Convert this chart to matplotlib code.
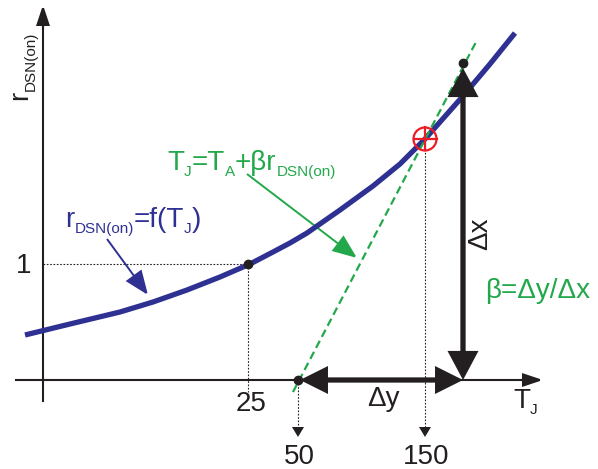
import matplotlib
matplotlib.use("Agg")
import matplotlib.pyplot as plt
from matplotlib.patches import FancyArrowPatch, Circle

# diagram coordinates (pixel-like, y grows downwards)
curve_x = [25, 70, 120, 153, 187, 220, 250, 273, 290, 307, 340, 373, 400, 425, 463, 490, 515]
curve_y = [335, 324, 312, 302, 290, 277, 264, 252, 243, 233, 210, 186, 164, 139, 96, 64, 33]

tangent_x = [293, 476]
tangent_y = [392, 42]

x_axis_y = 380
y_axis_x = 43
ref_point = (248, 264)      # (25, 1)
t50_point = (298, 380)
op_point = (425, 139)
top_point = (463, 63)

tick_labels = ["25", "50", "150"]

BLUE = "#2e3192"
GREEN = "#22a84a"
RED = "#ed1c24"
BLACK = "#231f20"

plt.rcParams["font.family"] = ["Liberation Sans", "DejaVu Sans"]

fig = plt.figure(figsize=(5.98, 4.69), dpi=100)
ax = fig.add_axes([0, 0, 1, 1])
ax.set_xlim(0, 598)
ax.set_ylim(469, 0)
ax.axis("off")
renderer = fig.canvas.get_renderer()


def arrow(p0, p1, style, lw, color, hl, hw, ls="-", z=3):
    st = f"{style},head_length={hl},head_width={hw}"
    a = FancyArrowPatch(p0, p1, arrowstyle=st, mutation_scale=1, lw=lw,
                        color=color, shrinkA=0, shrinkB=0, linestyle=ls,
                        joinstyle="miter", capstyle="butt", zorder=z)
    ax.add_patch(a)


def runs(x, y, parts, color, rot=0):
    # draw text with subscripts piece by piece
    for s, size, dy in parts:
        if rot == 0:
            t = ax.text(x, y + dy, s, fontsize=size, color=color,
                        ha="left", va="baseline")
            x += t.get_window_extent(renderer).width
        else:
            t = ax.text(x + dy, y, s, fontsize=size, color=color, rotation=90,
                        rotation_mode="anchor", ha="left", va="baseline")
            y -= t.get_window_extent(renderer).height


# axes
ax.plot([y_axis_x, y_axis_x], [401, 20], color=BLACK, lw=1.5, zorder=2)
arrow((y_axis_x, 30), (y_axis_x, 5), "-|>", 1.5, BLACK, 12, 4)
ax.plot([16, 530], [x_axis_y, x_axis_y], color=BLACK, lw=1.5, zorder=2)
arrow((520, x_axis_y), (543, x_axis_y), "-|>", 1.5, BLACK, 12, 4)

# dotted guides
dot = dict(color=BLACK, lw=0.8, linestyle=(0, (1.5, 1.5)), zorder=2)
ax.plot([y_axis_x, ref_point[0]], [ref_point[1], ref_point[1]], **dot)
ax.plot([ref_point[0], ref_point[0]], [ref_point[1], 392], **dot)
for px, py in ((t50_point[0], t50_point[1]), (op_point[0], op_point[1])):
    ax.plot([px, px], [py, 428], **dot)
    ax.fill([px - 6, px + 6, px], [427, 427, 437], color=BLACK, lw=0, zorder=2)

# curve and tangent
ax.plot(curve_x, curve_y, color=BLUE, lw=3.8, solid_capstyle="butt",
        solid_joinstyle="round", zorder=4)
ax.plot(tangent_x, tangent_y, color=GREEN, lw=1.6, linestyle=(0, (3.6, 2)), zorder=5)

# thick delta arrows
arrow((top_point[0], x_axis_y), (top_point[0], 68), "<|-|>", 3.8, BLACK, 15, 8, z=6)
arrow((t50_point[0] + 2, x_axis_y), (top_point[0], x_axis_y), "<|-|>", 3.8, BLACK, 14, 7, z=6)

# points
for p in (ref_point, t50_point, top_point):
    ax.plot(p[0], p[1], "o", color=BLACK, ms=6, zorder=7)

# operating point marker
ax.add_patch(Circle(op_point, 11.5, fill=False, ec=RED, lw=1.6, zorder=8))
ax.plot([op_point[0] - 11.5, op_point[0] + 11.5], [op_point[1]] * 2, color=RED, lw=1.6, zorder=8)
ax.plot([op_point[0]] * 2, [op_point[1] - 11.5, op_point[1] + 11.5], color=RED, lw=1.6, zorder=8)

# pointer arrows
arrow((247, 174), (357, 258), "-|>", 1.4, GREEN, 15, 6)
arrow((107, 239), (148, 295), "-|>", 1.4, BLUE, 15, 6)

# labels
BIG, SUB = 20, 11
ax.text(24, 273, "1", fontsize=BIG, color=BLACK, ha="center", va="baseline")
ax.text(251, 411, tick_labels[0], fontsize=BIG, color=BLACK, ha="center", va="baseline")
ax.text(299, 464, tick_labels[1], fontsize=BIG, color=BLACK, ha="center", va="baseline")
ax.text(426, 464, tick_labels[2], fontsize=BIG, color=BLACK, ha="center", va="baseline")
ax.text(367, 406, "\u0394y", fontsize=BIG, color=BLACK, ha="left", va="baseline")
ax.text(487, 234, "\u0394x", fontsize=BIG, color=BLACK, rotation=90,
        rotation_mode="anchor", ha="center", va="baseline")
ax.text(485, 298, "\u03b2=\u0394y/\u0394x", fontsize=BIG, color=GREEN, ha="left", va="baseline")

runs(513, 408, [("T", BIG, 0), ("J", SUB, 6)], BLACK)
runs(27, 100, [("r", BIG, 0), ("DSN(on)", SUB, 8)], BLACK, rot=90)
runs(65, 227, [("r", BIG, 0), ("DSN(on)", SUB, 6), ("=f(T", BIG, 0),
               ("J", SUB, 6), (")", BIG, 0)], BLUE)
runs(167, 170, [("T", BIG, 0), ("J", SUB, 6), ("=T", BIG, 0), ("A", SUB, 6),
                ("+\u03b2r", BIG, 0), ("DSN(on)", SUB, 6)], GREEN)

fig.savefig("out.png", dpi=100)
